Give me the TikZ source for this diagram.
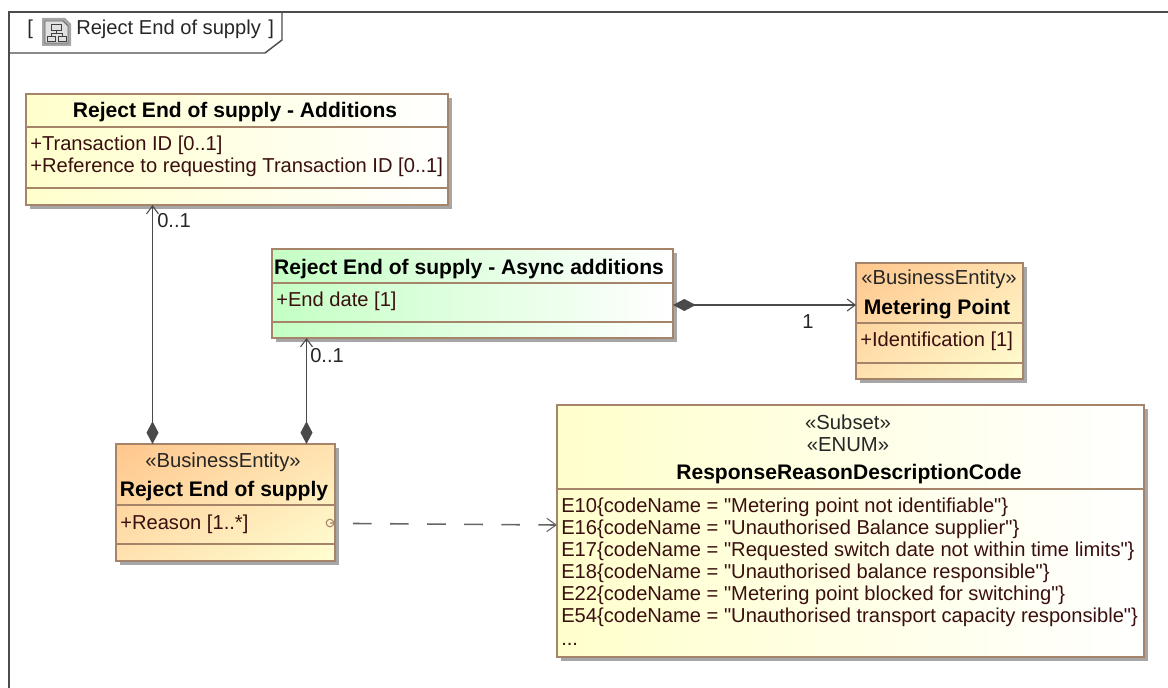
\documentclass[tikz,border=0pt]{standalone}
\usepackage{fontspec}
\newfontfamily\uifont{Liberation Sans}
\usetikzlibrary{arrows.meta,shadows,shadings}
\definecolor{edgeC}{HTML}{A5846A}
\definecolor{lineC}{HTML}{4A4A4A}
\definecolor{attrC}{HTML}{3A0F0F}
\definecolor{yelC}{HTML}{FFFFCC}
\definecolor{grnC}{HTML}{C4FFC4}
\definecolor{orgC}{HTML}{FFC68C}
\definecolor{midC}{HTML}{FFE2B0}
\definecolor{lgtC}{HTML}{FFFFD2}
\tikzset{
  umlbox/.style={draw=edgeC,line width=1.1pt,inner sep=0pt,outer sep=0pt,anchor=north west,
    general shadow={fill=black!35,shadow xshift=3pt,shadow yshift=-3pt}},
  yellowbox/.style={umlbox,left color=yelC,right color=white},
  greenbox/.style={umlbox,left color=grnC,right color=white},
  orangebox/.style={umlbox,upper left=orgC,upper right=midC,lower left=midC,lower right=lgtC},
  divider/.style={draw=edgeC,line width=1pt},
  title/.style={font=\uifont\fontsize{15.8pt}{18pt}\selectfont\bfseries,anchor=base,inner sep=0pt,text=black},
  stereo/.style={font=\uifont\fontsize{15.2pt}{18pt}\selectfont,anchor=base,inner sep=0pt,text=black!85},
  attr/.style={font=\uifont\fontsize{15.1pt}{18pt}\selectfont,anchor=base west,inner sep=0pt,text=attrC},
  mult/.style={font=\uifont\fontsize{15.1pt}{18pt}\selectfont,anchor=base west,inner sep=0pt,text=black!85},
  assoc/.style={draw=lineC,line width=1.3pt,{Diamond[length=17pt,width=9pt,fill=lineC]}-{Straight Barb[length=6pt,width=9pt,line width=.8pt]}},
  depend/.style={draw=lineC!85,line width=1.2pt,dash pattern=on 14pt off 13.8pt,-{Straight Barb[length=7pt,width=10pt,line width=.8pt]}},
  frameln/.style={draw=black!70,line width=1.1pt}
}
\newcommand{\umlnode}[6]{\node[#6,minimum width={(#4-#2)*0.75pt},minimum height={(#5-#3)*0.75pt}] (#1) at (#2,#3) {};}
\begin{document}
\begin{tikzpicture}[x=0.75pt,y=-0.75pt]
\useasboundingbox (0,0) rectangle (1168,688);
% frame
\draw[frameln] (9,690) -- (9,12) -- (1170,12);
\draw[frameln] (9,53) -- (265,53) -- (282,40) -- (282,12);
\node[attr,text=black!85] (brl) at (27,35) {[};
\node[attr,text=black!85] (brr) at (268,35) {]};
\node[attr,text=black!85] (tabt) at (76,35) {Reject End of supply};
% diagram icon
\fill[black!35] (42,18) -- (65,18) -- (71,24) -- (71,46) -- (42,46) -- cycle;
\draw[black!60,line width=.6pt,fill=black!12] (45,21) -- (63,21) -- (68,26) -- (68,43) -- (45,43) -- cycle;
\draw[black!75,line width=.7pt] (51,24) rectangle (61,30) (47,36) rectangle (55,41) (58,36) rectangle (66,41) (56,30) -- (56,33) (51,36) -- (51,33) -- (62,33) -- (62,36);
% boxes
\umlnode{add}{26}{94}{448}{205}{yellowbox}
\umlnode{async}{272}{249}{673}{338}{greenbox}
\umlnode{meter}{856}{263}{1023}{379}{orangebox}
\umlnode{rej}{116}{444}{335}{561}{orangebox}
\umlnode{enum}{557}{405}{1144}{657}{yellowbox}
% dividers
\draw[divider] (add.west |- 0,127) -- (add.east |- 0,127);
\draw[divider] (add.west |- 0,188) -- (add.east |- 0,188);
\draw[divider] (async.west |- 0,283) -- (async.east |- 0,283);
\draw[divider] (async.west |- 0,322) -- (async.east |- 0,322);
\draw[divider] (meter.west |- 0,323) -- (meter.east |- 0,323);
\draw[divider] (meter.west |- 0,363) -- (meter.east |- 0,363);
\draw[divider] (rej.west |- 0,505) -- (rej.east |- 0,505);
\draw[divider] (rej.west |- 0,544) -- (rej.east |- 0,544);
\draw[divider] (enum.west |- 0,489) -- (enum.east |- 0,489);
% texts
\node[title] (t1) at (235,118) {Reject End of supply - Additions};
\node[attr] (a1) at (30,151) {+Transaction ID [0..1]};
\node[attr] (a2) at (30,173) {+Reference to requesting Transaction ID [0..1]};
\node[title] (t2) at (469,274) {Reject End of supply - Async additions};
\node[attr] (a3) at (276,306) {+End date [1]};
\node[stereo] (s1) at (939,285) {«BusinessEntity»};
\node[title] (t3) at (937,314) {Metering Point};
\node[attr] (a4) at (860,346) {+Identification [1]};
\node[stereo] (s2) at (223,467) {«BusinessEntity»};
\node[title] (t4) at (224,496) {Reject End of supply};
\node[attr] (a5) at (120,529) {+Reason [1..*]};
\node[stereo] (s3) at (848,429) {«Subset»};
\node[stereo] (s4) at (848,451) {«ENUM»};
\node[title] (t5) at (849,479) {ResponseReasonDescriptionCode};
\node[attr] (e1) at (561,512) {E10\{codeName = "Metering point not identifiable"\}};
\node[attr] (e2) at (561,534) {E16\{codeName = "Unauthorised Balance supplier"\}};
\node[attr] (e3) at (561,556) {E17\{codeName = "Requested switch date not within time limits"\}};
\node[attr] (e4) at (561,578) {E18\{codeName = "Unauthorised balance responsible"\}};
\node[attr] (e5) at (561,600) {E22\{codeName = "Metering point blocked for switching"\}};
\node[attr] (e6) at (561,622) {E54\{codeName = "Unauthorised transport capacity responsible"\}};
\node[attr] (e7) at (561,645) {...};
% port mark
\draw[edgeC,line width=.8pt] (330,523) circle (3.8) (330,523) -- (334,523);
% connectors
\path (rej.north west) ++(36.5,0) coordinate (c1s);
\path (rej.north west) ++(190.5,0) coordinate (c2s);
\draw[assoc] (c1s) -- (c1s |- add.south);
\draw[assoc] (c2s) -- (c2s |- async.south);
\path (async.east |- 0,305) coordinate (c3s);
\draw[assoc] (c3s) -- (c3s -| meter.west);
\coordinate (dstart) at (353,523.5);
\path (enum.west |- 0,525) coordinate (dend);
\draw[depend] (dstart) -- (dend);
% multiplicities
\node[mult] (m1) at (157,228) {0..1};
\node[mult] (m2) at (310,362) {0..1};
\node[mult] (m3) at (802,328) {1};
\end{tikzpicture}
\end{document}
